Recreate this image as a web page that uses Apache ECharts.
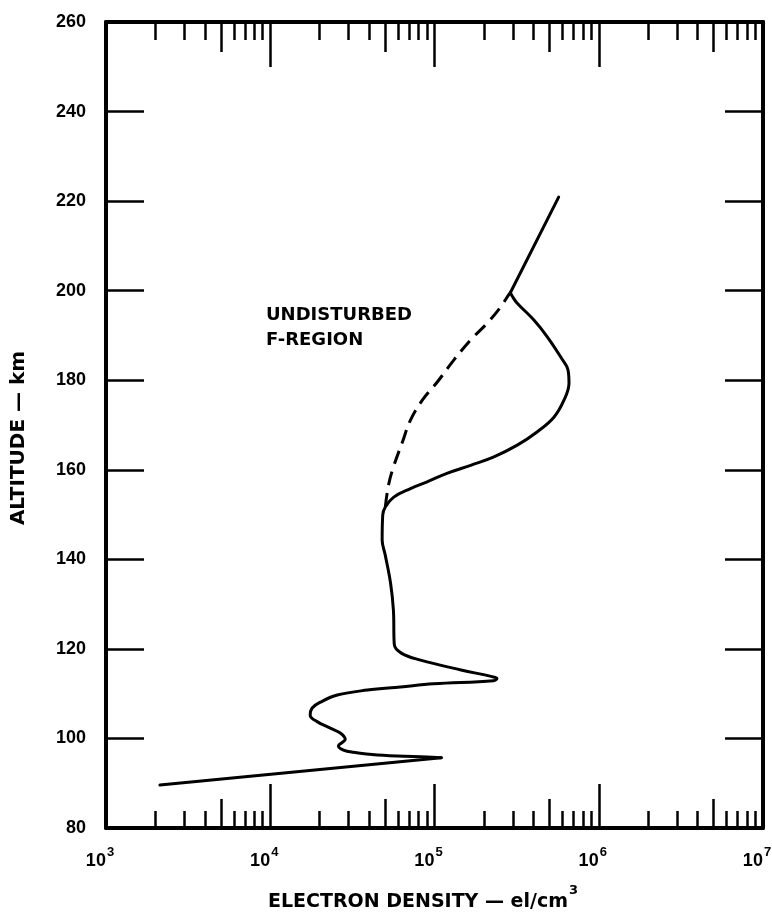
<!DOCTYPE html>
<html><head><meta charset="utf-8">
<script src="https://cdn.jsdelivr.net/npm/echarts@6/dist/echarts.min.js"></script>
<style>html,body{margin:0;padding:0;background:#fff}#c{width:772px;height:912px}</style>
</head><body><div id="c"></div>
<script>
// ---- data ----
const decadeExponents = [3, 4, 5, 6, 7];
const minorMultipliers = [2, 3, 4, 6, 7, 8, 9];
const midMultipliers = [5];
const altitudeMin = 80, altitudeMax = 260, altitudeStep = 20;

// solid profile, in three pieces (straight bottom leg, smooth body, straight top leg)
const lowerLegDensity = [2130, 110000];
const lowerLegAltitude = [89.6, 95.7];
const bodyDensity = [110000, 82200, 44900, 32100, 27900, 26000, 28600, 26700, 23200, 19400, 17500, 18000, 20200, 25600, 39000, 62100, 98600, 229000, 240000, 224000, 145000, 82200, 63100, 56900, 56200, 54000, 50100, 48000, 48400, 50200, 56500, 71400, 90200, 119000, 166000, 230000, 319000, 423000, 535000, 615000, 659000, 650000, 596000, 486000, 404000, 319000, 297000, 290000];
const bodyAltitude = [95.7, 95.9, 96.3, 96.9, 97.4, 98.3, 99.8, 101.2, 102.3, 103.7, 105.2, 106.8, 108.1, 109.7, 110.8, 111.5, 112.2, 112.9, 113.4, 113.8, 115.3, 117.5, 119.0, 121.0, 128.7, 134.7, 141.0, 144.3, 149.9, 151.7, 153.9, 155.8, 157.3, 159.2, 161.0, 162.9, 165.5, 168.5, 171.8, 175.6, 179.3, 182.3, 184.8, 189.7, 193.4, 197.2, 198.8, 199.6];
const upperLegDensity = [290000, 570000];
const upperLegAltitude = [199.6, 220.9];
// undisturbed F-region (dashed)
const dashedDensity = [50200, 52500, 56200, 63800, 71400, 84500, 104000, 131000, 166000, 210000, 252000, 282000, 290000];
const dashedAltitude = [151.7, 156.6, 160.6, 166.2, 171.1, 175.6, 179.6, 184.5, 189.0, 192.8, 196.3, 199.0, 199.6];

const annotationLines = ['UNDISTURBED', 'F-REGION'];
const xTitle = 'ELECTRON DENSITY — el/cm';
const yTitle = 'ALTITUDE — km';

// ---- build ----
const FONT = '"Liberation Sans", Arial, Helvetica, sans-serif';
const TFONT = '"DejaVu Sans", "Liberation Sans", sans-serif';
const decadeTicks = decadeExponents.slice(0, -1);
function sub(mults) {
  const out = [];
  decadeTicks.forEach(d => mults.forEach(m => out.push(d + Math.log10(m))));
  return out;
}
const minorTicks = sub(minorMultipliers);
const midTicks = sub(midMultipliers);
const xmin = decadeExponents[0], xmax = decadeExponents[decadeExponents.length - 1];

function tickAxis(position, values, len, showLine, showLabel) {
  return {
    type: 'value', position, min: xmin, max: xmax, interval: 1,
    axisLine: { show: showLine, lineStyle: { color: '#000', width: 4 } },
    axisTick: { show: true, inside: true, length: len, customValues: values,
      lineStyle: { color: '#000', width: 2.5 } },
    axisLabel: showLabel ? {
      show: true, margin: 18, customValues: decadeExponents, hideOverlap: false,
      padding: [0, 12, 0, 0],
      formatter: v => '{a|10}{b|' + v + '}',
      rich: {
        a: { fontFamily: FONT, fontWeight: 'bold', fontSize: 18, color: '#000', lineHeight: 24, verticalAlign: 'bottom' },
        b: { fontFamily: FONT, fontWeight: 'bold', fontSize: 13, color: '#000', lineHeight: 24, verticalAlign: 'top', padding: [0, 0, 0, 1] }
      }
    } : { show: false },
    splitLine: { show: false }
  };
}

const xAxes = [
  { type: 'log', logBase: 10, min: Math.pow(10, xmin), max: Math.pow(10, xmax), show: false },
  tickAxis('bottom', decadeExponents.slice(1, -1), 44, true, true),
  tickAxis('bottom', midTicks, 29, false, false),
  tickAxis('bottom', minorTicks, 17, false, false),
  tickAxis('top', decadeExponents.slice(1, -1), 45, true, false),
  tickAxis('top', midTicks, 30, false, false),
  tickAxis('top', minorTicks, 18, false, false)
];

function yAx(position, showLabel) {
  return {
    type: 'value', position, min: altitudeMin, max: altitudeMax, interval: altitudeStep,
    axisLine: { show: true, lineStyle: { color: '#000', width: 4 } },
    axisTick: { show: true, inside: true, length: 38, lineStyle: { color: '#000', width: 2.5 } },
    axisLabel: { show: showLabel, margin: 20, fontFamily: FONT, fontWeight: 'bold', fontSize: 18, color: '#000' },
    splitLine: { show: false }
  };
}

function lineSeries(xs, ys, smooth, extra) {
  return Object.assign({
    type: 'line', xAxisIndex: 0, yAxisIndex: 0, showSymbol: false, symbol: 'none', smooth,
    data: xs.map((d, i) => [d, ys[i]]),
    lineStyle: { color: '#000', width: 3, cap: 'round', join: 'round' }
  }, extra || {});
}

const option = {
  backgroundColor: '#fff',
  animation: false,
  grid: { left: 106, right: 9, top: 22, bottom: 84, containLabel: false, outerBoundsMode: 'none' },
  xAxis: xAxes,
  yAxis: [yAx('left', true), yAx('right', false)],
  series: [
    lineSeries(lowerLegDensity, lowerLegAltitude, false),
    lineSeries(bodyDensity, bodyAltitude, 0.4),
    lineSeries(upperLegDensity, upperLegAltitude, false),
    lineSeries(dashedDensity, dashedAltitude, 0.4, { lineStyle: { color: '#000', width: 3, type: [14, 8] } })
  ],
  graphic: [
    { type: 'text', x: 266, y: 303, style: { text: annotationLines.join('\n'), font: 'bold 18px ' + TFONT, fill: '#000', lineHeight: 25 } },
    { type: 'text', x: 423, y: 898, style: {
        text: '{a|' + xTitle + '}{b|3}', align: 'center', verticalAlign: 'middle', textAlign: 'center', textVerticalAlign: 'middle',
        rich: {
          a: { fontFamily: TFONT, fontWeight: 'bold', fontSize: 19, fill: '#000', color: '#000', lineHeight: 28, verticalAlign: 'bottom' },
          b: { fontFamily: TFONT, fontWeight: 'bold', fontSize: 13, fill: '#000', color: '#000', lineHeight: 28, verticalAlign: 'top', padding: [0, 0, 0, 1] }
        } } },
    { type: 'text', x: 19, y: 438, rotation: Math.PI / 2, style: {
        text: yTitle, font: 'bold 20px ' + TFONT, fill: '#000', align: 'center', verticalAlign: 'middle', textAlign: 'center', textVerticalAlign: 'middle' } }
  ]
};
const chart = echarts.init(document.getElementById('c'), null, { renderer: 'canvas' });
chart.setOption(option);
</script></body></html>
